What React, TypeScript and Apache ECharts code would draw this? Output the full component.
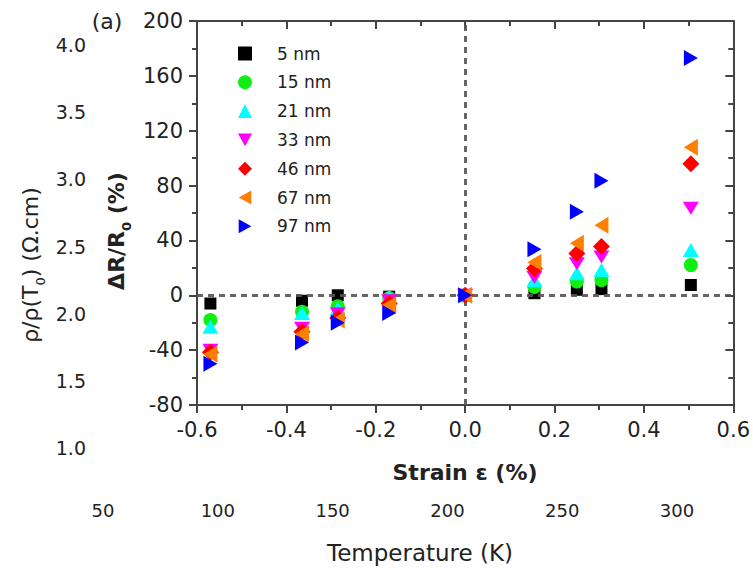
import React, { useEffect, useRef } from 'react';
import * as echarts from 'echarts';

// Strain values (%) for each measurement group
const strain = [-0.57, -0.365, -0.285, -0.17, 0, 0.155, 0.25, 0.305, 0.505];

// ΔR/R0 (%) per film thickness
const nm5 = [-6, -4, 0, -1, 0, 1.5, 4, 4.5, 7.5];
const nm15 = [-18, -12, -8, -2, 0, 6, 10, 11, 22];
const nm21 = [-23, -13, -9.5, -1, 0, 11, 16, 18.5, 33];
const nm33 = [-40, -24, -13.5, -4, 0, 13, 23, 28, 63.5];
const nm46 = [-41.5, -26.5, -16.5, -6, 0, 19.5, 30.5, 35.5, 96];
const nm67 = [-43, -28, -18, -7, 0, 24, 38, 51, 108];
const nm97 = [-50, -34.5, -20, -13, 0, 33.5, 61, 83.5, 173];

const seriesNames = ['5 nm', '15 nm', '21 nm', '33 nm', '46 nm', '67 nm', '97 nm'];
const seriesValues = [nm5, nm15, nm21, nm33, nm46, nm67, nm97];
const seriesColors = ['#000000', '#11ee11', '#00ffff', '#ff00ff', '#ff0000', '#ff8000', '#0000ff'];
const seriesSymbols = [
  'rect',
  'circle',
  'triangle',
  'path://M0,0L10,0L5,9Z',
  'diamond',
  'path://M10,0L10,10L1,5Z',
  'path://M0,0L0,10L9,5Z',
];
const seriesSizes: any[] = [12, 14, [16, 14], [16, 13], [17, 17], [14, 17], [14, 16]];

// Background (secondary) axes
const tempMin = 50;
const tempMax = 300;
const rhoMin = 1.0;
const rhoMax = 4.0;

const FONT = 'DejaVu Sans, Liberation Sans, Arial, sans-serif';
const fmt1 = (v: number) => (Math.abs(v) < 1e-9 ? 0 : v).toFixed(1);

export default function App() {
  const ref = useRef<HTMLDivElement>(null);

  useEffect(() => {
    if (!ref.current) return;
    const chart = echarts.init(ref.current, undefined, { renderer: 'svg' });

    const frameLine = { show: true, onZero: false, lineStyle: { color: '#444', width: 2 } };

    const scatterSeries = seriesNames.map((name, k) => ({
      name,
      type: 'scatter',
      xAxisIndex: 0,
      yAxisIndex: 0,
      symbol: seriesSymbols[k],
      symbolSize: seriesSizes[k],
      itemStyle: { color: seriesColors[k], opacity: 1 },
      z: 3 + k,
      data: strain.map((x, i) => [x, seriesValues[k][i]]),
    }));

    chart.setOption({
      animation: false,
      backgroundColor: '#ffffff',
      textStyle: { fontFamily: FONT },
      grid: [
        { left: 197, top: 21, width: 537, height: 384, containLabel: false },
        { left: 103, top: 45, width: 574, height: 403, containLabel: false },
      ],
      legend: {
        orient: 'vertical',
        left: 238,
        top: 45,
        padding: 0,
        itemWidth: 14,
        itemHeight: 14,
        itemGap: 11.8,
        selectedMode: false,
        data: seriesNames,
        textStyle: {
          fontSize: 17,
          color: '#222',
          fontFamily: FONT,
          lineHeight: 14,
          padding: [0, 0, 0, 20],
        },
      },
      xAxis: [
        {
          type: 'value',
          gridIndex: 0,
          position: 'bottom',
          min: -0.6,
          max: 0.6,
          interval: 0.2,
          axisLine: frameLine,
          axisTick: { show: true, inside: false, length: 8, lineStyle: { color: '#444', width: 2 } },
          minorTick: { show: true, splitNumber: 2, length: 5, lineStyle: { color: '#444', width: 2 } },
          splitLine: { show: false },
          axisLabel: { fontSize: 21, color: '#222', margin: 14, formatter: fmt1, fontFamily: FONT },
        },
        {
          type: 'value',
          gridIndex: 0,
          position: 'top',
          min: -0.6,
          max: 0.6,
          interval: 0.2,
          axisLine: frameLine,
          axisTick: { show: true, inside: true, length: 8, lineStyle: { color: '#444', width: 2 } },
          minorTick: { show: true, splitNumber: 2, length: 5, lineStyle: { color: '#444', width: 2 } },
          splitLine: { show: false },
          axisLabel: { show: false },
        },
        {
          type: 'value',
          gridIndex: 1,
          position: 'bottom',
          min: tempMin,
          max: tempMax,
          interval: 50,
          axisLine: { show: false },
          axisTick: { show: false },
          splitLine: { show: false },
          axisLabel: { fontSize: 18, color: '#222', margin: 53, fontFamily: FONT },
        },
      ],
      yAxis: [
        {
          type: 'value',
          gridIndex: 0,
          position: 'left',
          min: -80,
          max: 200,
          interval: 40,
          axisLine: frameLine,
          axisTick: { show: true, inside: false, length: 8, lineStyle: { color: '#444', width: 2 } },
          minorTick: { show: true, splitNumber: 2, length: 5, lineStyle: { color: '#444', width: 2 } },
          splitLine: { show: false },
          axisLabel: { fontSize: 21, color: '#222', margin: 14, fontFamily: FONT },
        },
        {
          type: 'value',
          gridIndex: 0,
          position: 'right',
          min: -80,
          max: 200,
          interval: 40,
          axisLine: frameLine,
          axisTick: { show: true, inside: true, length: 8, lineStyle: { color: '#444', width: 2 } },
          minorTick: { show: true, splitNumber: 2, length: 5, lineStyle: { color: '#444', width: 2 } },
          splitLine: { show: false },
          axisLabel: { show: false },
        },
        {
          type: 'value',
          gridIndex: 1,
          position: 'left',
          min: rhoMin,
          max: rhoMax,
          interval: 0.5,
          axisLine: { show: false },
          axisTick: { show: false },
          splitLine: { show: false },
          axisLabel: { fontSize: 19, color: '#222', margin: 17, formatter: fmt1, fontFamily: FONT },
        },
      ],
      graphic: [
        {
          type: 'text',
          x: 107,
          y: 21,
          style: { text: '(a)', fontSize: 22, fill: '#222', align: 'center', verticalAlign: 'middle', fontFamily: FONT },
        },
        {
          type: 'text',
          x: 465,
          y: 472,
          style: {
            text: 'Strain ε (%)',
            fontSize: 22,
            fontWeight: 'bold',
            fill: '#222',
            align: 'center',
            verticalAlign: 'middle',
            fontFamily: FONT,
          },
        },
        {
          type: 'text',
          x: 420,
          y: 553,
          style: {
            text: 'Temperature (K)',
            fontSize: 23,
            fill: '#222',
            align: 'center',
            verticalAlign: 'middle',
            fontFamily: FONT,
          },
        },
        {
          type: 'text',
          x: 114,
          y: 231,
          rotation: Math.PI / 2,
          style: {
            text: '{m|ΔR/R}{s|0}{m| (%)}',
            fill: '#222',
            align: 'center',
            verticalAlign: 'middle',
            rich: {
              m: { fontSize: 22, fontWeight: 'bold', fill: '#222', fontFamily: FONT, verticalAlign: 'bottom', lineHeight: 26 },
              s: { fontSize: 13, fontWeight: 'bold', fill: '#222', fontFamily: FONT, verticalAlign: 'bottom', lineHeight: 26, padding: [0, 0, -6, 0] },
            },
          },
        },
        {
          type: 'text',
          x: 28,
          y: 265,
          rotation: Math.PI / 2,
          style: {
            text: '{m|ρ/ρ(T}{s|0}{m|) (Ω.cm)}',
            fill: '#222',
            align: 'center',
            verticalAlign: 'middle',
            rich: {
              m: { fontSize: 22, fill: '#222', fontFamily: FONT, verticalAlign: 'bottom', lineHeight: 26 },
              s: { fontSize: 13, fill: '#222', fontFamily: FONT, verticalAlign: 'bottom', lineHeight: 26, padding: [0, 0, -6, 0] },
            },
          },
        },
      ],
      series: [
        {
          type: 'line',
          xAxisIndex: 0,
          yAxisIndex: 0,
          data: [],
          z: 1,
          silent: true,
          markLine: {
            silent: true,
            symbol: ['none', 'none'],
            label: { show: false },
            lineStyle: { color: '#555', width: 3, type: [6, 5], opacity: 0.9 },
            emphasis: { disabled: true },
            data: [{ xAxis: 0 }, { yAxis: 0 }],
          },
        },
        ...scatterSeries,
      ],
    });

    return () => chart.dispose();
  }, []);

  return <div ref={ref} style={{ position: 'absolute', left: 0, top: 0, width: 753, height: 568 }} />;
}
